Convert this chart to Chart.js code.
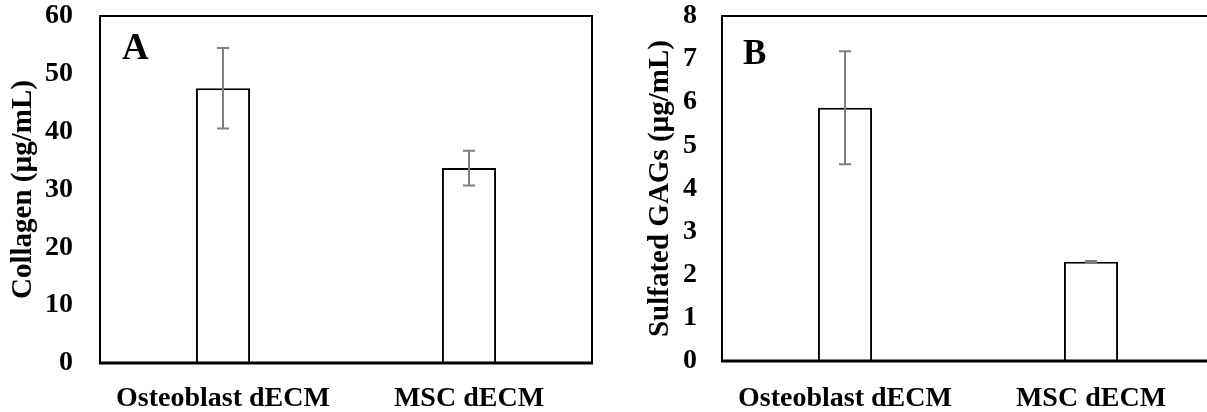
<!DOCTYPE html>
<html>
<head>
<meta charset="utf-8">
<script src="https://cdn.jsdelivr.net/npm/chart.js@4.4.0/dist/chart.umd.min.js"></script>
<style>
  html, body { margin: 0; padding: 0; background: #fff; overflow: hidden; width: 1207px; height: 412px; }
  .panel { position: absolute; top: 0; height: 412px; }
  #panel-a { left: 0; width: 600px; }
  #panel-b { left: 600px; width: 622px; }
</style>
</head>
<body>
<div class="panel" id="panel-a"><canvas id="ch-collagen"></canvas></div>
<div class="panel" id="panel-b"><canvas id="ch-gags"></canvas></div>
<script>
const categories = ["Osteoblast dECM", "MSC dECM"];

const collagenValues = [47.5, 33.7];
const collagenErrors = [6.95, 3.0];
const collagenTicks = [0, 10, 20, 30, 40, 50, 60];

const gagValues = [5.87, 2.3];
const gagErrors = [1.31, 0.02];
const gagTicks = [0, 1, 2, 3, 4, 5, 6, 7, 8];

const FUENTE = "'Liberation Serif', 'Times New Roman', serif";
Chart.defaults.font.family = FUENTE;
Chart.defaults.color = "#000";

/* ========================= */
/* BOX, ERROR BARS, LETTER   */
/* ========================= */

const pluginPanel = {
  id: "panelExtras",
  afterDatasetsDraw(chart, args, opts) {
    const { ctx } = chart;
    const meta = chart.getDatasetMeta(0);
    const y = chart.scales.y;
    const values = chart.data.datasets[0].data;

    ctx.save();
    ctx.strokeStyle = "#7f7f7f";
    ctx.lineWidth = 2;
    meta.data.forEach((bar, i) => {
      const x = Math.round(bar.x);
      const top = y.getPixelForValue(values[i] + opts.errors[i]);
      const bottom = y.getPixelForValue(values[i] - opts.errors[i]);
      ctx.beginPath();
      ctx.moveTo(x, top);
      ctx.lineTo(x, bottom);
      ctx.moveTo(x - 6, top);
      ctx.lineTo(x + 6, top);
      ctx.moveTo(x - 6, bottom);
      ctx.lineTo(x + 6, bottom);
      ctx.stroke();
    });
    ctx.restore();
  },
  afterDraw(chart, args, opts) {
    const { ctx, chartArea } = chart;
    const { left, top, right, bottom } = chartArea;

    ctx.save();
    ctx.strokeStyle = "#000";
    ctx.lineWidth = 2;
    ctx.strokeRect(left, top, right - left, bottom - top);
    ctx.lineWidth = 3;
    ctx.beginPath();
    ctx.moveTo(left - 1, bottom);
    ctx.lineTo(right + 1, bottom);
    ctx.stroke();

    ctx.fillStyle = "#000";
    ctx.font = `bold ${opts.letterSize}px ${FUENTE}`;
    ctx.textBaseline = "alphabetic";
    ctx.fillText(opts.letter, left + opts.letterX, top + opts.letterY);
    ctx.restore();
  }
};

Chart.register(pluginPanel);

function crearPanel(canvasId, datos, errores, ticks, titulo, cfg) {
  return new Chart(document.getElementById(canvasId), {
    type: "bar",
    data: {
      labels: categories,
      datasets: [
        {
          data: datos,
          backgroundColor: "#ffffff",
          borderColor: "#000000",
          borderWidth: 2,
          barPercentage: 0.22,
          categoryPercentage: 1
        }
      ]
    },
    options: {
      responsive: true,
      maintainAspectRatio: false,
      animation: false,
      layout: {
        padding: { top: cfg.top, right: 8, left: 0, bottom: 0 }
      },
      plugins: {
        legend: { display: false },
        tooltip: { enabled: false },
        panelExtras: {
          errors: errores,
          letter: cfg.letter,
          letterSize: cfg.letterSize,
          letterX: cfg.letterX,
          letterY: cfg.letterY
        }
      },
      scales: {
        x: {
          grid: { display: false, drawTicks: false },
          border: { display: false },
          ticks: {
            padding: cfg.xPad,
            maxRotation: 0,
            font: { size: 28, weight: "bold" }
          },
          afterFit(scale) {
            scale.height = cfg.xHeight;
            scale.paddingLeft = 0;
            scale.paddingRight = 0;
          }
        },
        y: {
          min: ticks[0],
          max: ticks[ticks.length - 1],
          grid: { display: false, drawTicks: false },
          border: { display: false },
          ticks: {
            stepSize: ticks[1] - ticks[0],
            padding: cfg.yPad,
            font: { size: 28, weight: "bold" }
          },
          title: {
            display: true,
            text: titulo,
            padding: { top: cfg.titlePad, bottom: 0 },
            font: { size: 29, weight: "bold" }
          },
          afterFit(scale) {
            scale.width = cfg.yWidth;
            scale.paddingTop = 0;
            scale.paddingBottom = 0;
          }
        }
      }
    }
  });
}

crearPanel("ch-collagen", collagenValues, collagenErrors, collagenTicks, "Collagen (µg/mL)", {
  top: 16, xHeight: 49, xPad: 19, yWidth: 100, yPad: 27, titlePad: 6,
  letter: "A", letterSize: 37, letterX: 22, letterY: 43
});

crearPanel("ch-gags", gagValues, gagErrors, gagTicks, "Sulfated GAGs (µg/mL)", {
  top: 16, xHeight: 51, xPad: 21, yWidth: 122, yPad: 25, titlePad: 43,
  letter: "B", letterSize: 35, letterX: 21, letterY: 48
});
</script>
</body>
</html>
